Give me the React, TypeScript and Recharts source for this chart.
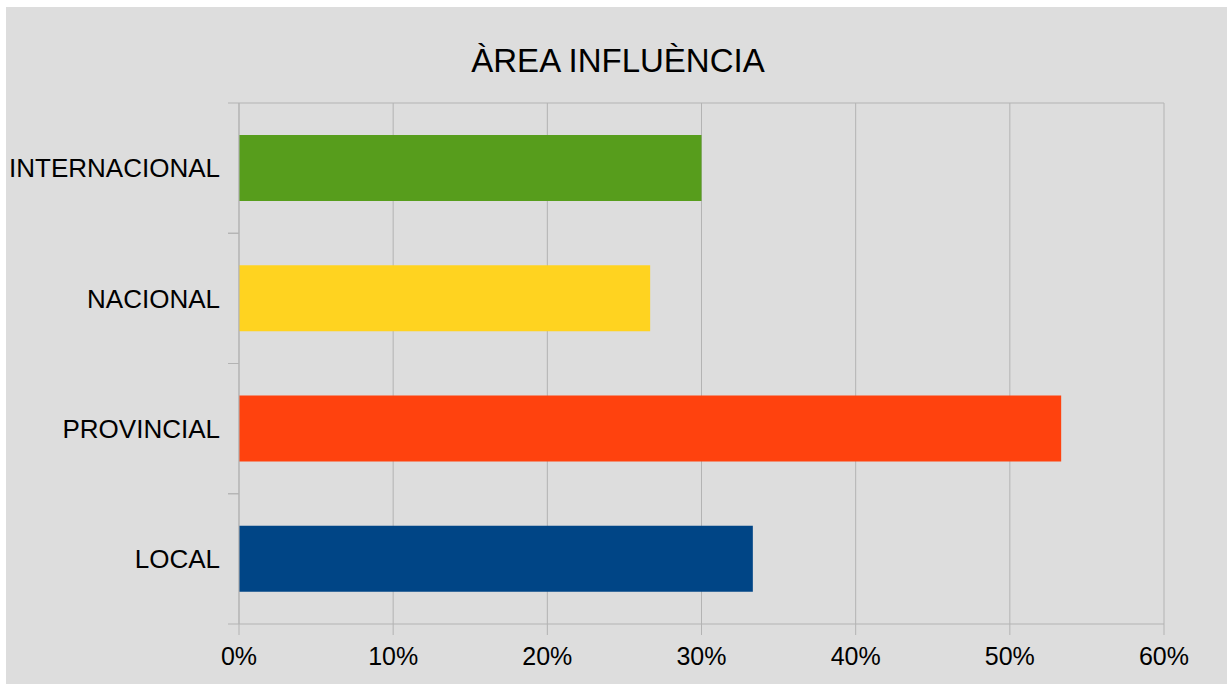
import { BarChart, Bar, XAxis, YAxis, CartesianGrid, Cell } from "recharts";

const categories = ["LOCAL", "PROVINCIAL", "NACIONAL", "INTERNACIONAL"];
const shares = [33.33, 53.33, 26.67, 30];
const barColors = ["#004586", "#ff420e", "#ffd320", "#579d1c"];
const xTicks = [0, 10, 20, 30, 40, 50, 60];

const data = categories.map((name, i) => ({ name, value: shares[i] }));

const font = "'Liberation Sans', Arial, sans-serif";
const gridColor = "#b3b3b3";
const yTickMargin = 8;
const yTickSize = 11;

// category label plus the boundary tick marks above and below each band
function CategoryTick(props: any) {
  const { x, y, payload } = props;
  const half = payload?.offset ?? 0;
  const x0 = x + yTickMargin;
  const x1 = x0 + yTickSize;
  return (
    <g>
      <line x1={x0} x2={x1} y1={y - half} y2={y - half} stroke={gridColor} />
      <line x1={x0} x2={x1} y1={y + half} y2={y + half} stroke={gridColor} />
      <text x={x} y={y} dy="0.355em" textAnchor="end" fill="#000" fontSize={26} fontFamily={font}>
        {payload.value}
      </text>
    </g>
  );
}

export default function App() {
  return (
    <div
      style={{
        position: "absolute",
        left: 6,
        top: 7,
        width: 1221,
        height: 677,
        background: "#dddddd",
        fontFamily: font,
      }}
    >
      <div
        style={{
          position: "absolute",
          top: 37,
          left: 0,
          width: 1224,
          textAlign: "center",
          fontSize: 33,
          lineHeight: "33px",
          color: "#000",
        }}
      >
        ÀREA INFLUÈNCIA
      </div>
      <BarChart
        width={1221}
        height={677}
        data={data}
        layout="vertical"
        margin={{ top: 95, right: 63, left: 0, bottom: 0 }}
        style={{ position: "absolute", left: 0, top: 0 }}
      >
        <CartesianGrid horizontal={false} vertical stroke={gridColor} />
        <XAxis
          type="number"
          domain={[0, 60]}
          ticks={xTicks}
          tickFormatter={(v) => `${v}%`}
          height={60}
          axisLine={{ stroke: gridColor }}
          tickLine={{ stroke: gridColor }}
          tickSize={11}
          tickMargin={12}
          tick={{ fill: "#000", fontSize: 25, fontFamily: font }}
        />
        <XAxis
          xAxisId="top"
          orientation="top"
          type="number"
          domain={[0, 60]}
          height={1}
          ticks={[]}
          tickLine={false}
          tickFormatter={() => ""}
          axisLine={{ stroke: gridColor }}
        />
        <YAxis
          type="category"
          dataKey="name"
          reversed
          width={233}
          axisLine={{ stroke: gridColor }}
          tickLine={false}
          tickSize={yTickSize}
          tickMargin={yTickMargin}
          tick={<CategoryTick />}
        />
        <Bar dataKey="value" barSize={66} isAnimationActive={false}>
          {data.map((d, i) => (
            <Cell key={d.name} fill={barColors[i]} />
          ))}
        </Bar>
      </BarChart>
    </div>
  );
}
